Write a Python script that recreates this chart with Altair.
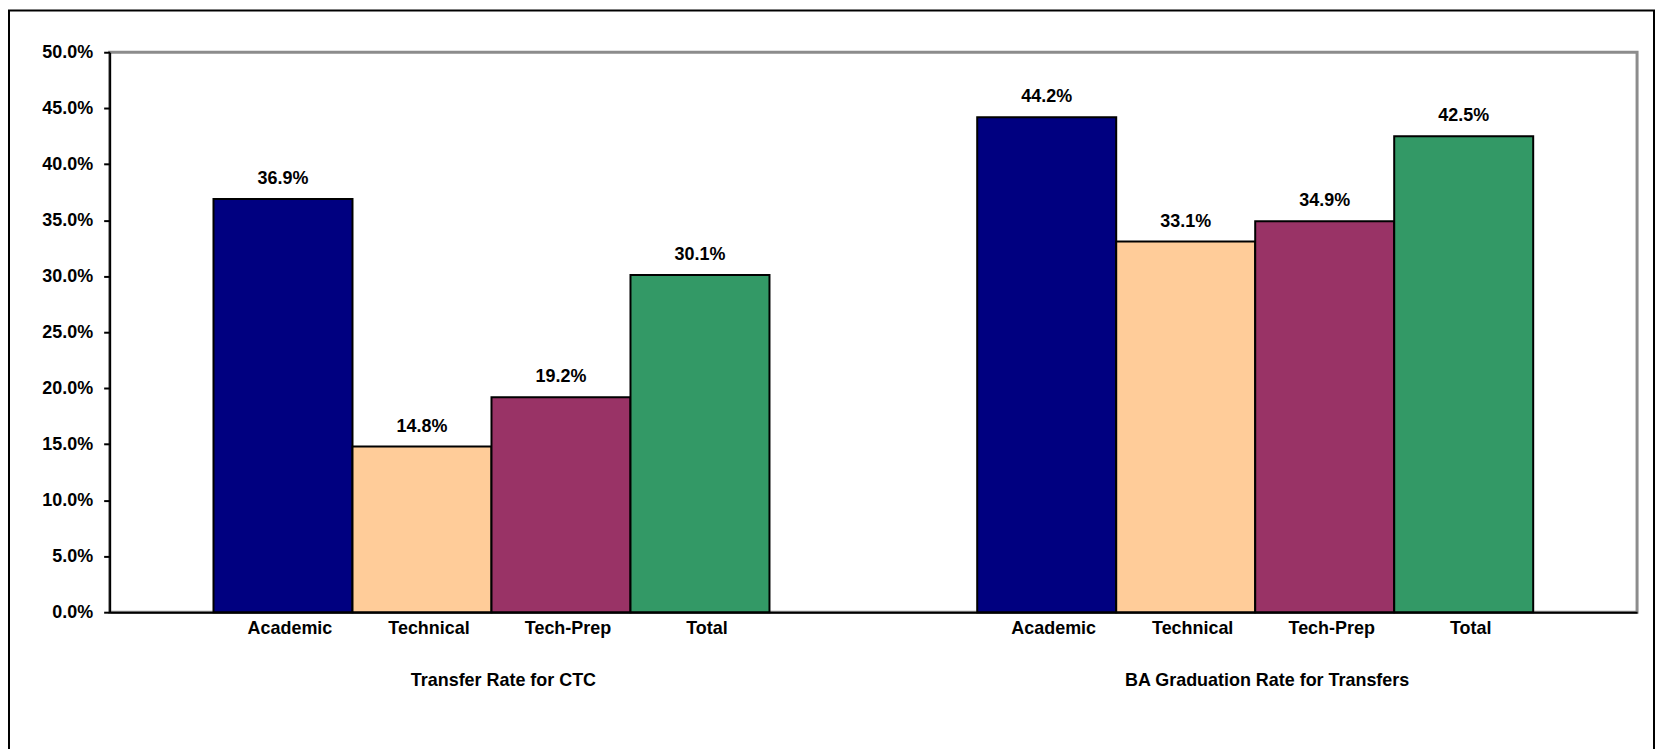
import altair as alt
import pandas as pd

groups = ["Transfer Rate for CTC", "BA Graduation Rate for Transfers"]
categories = ["Academic", "Technical", "Tech-Prep", "Total"]
transfer_vals = [0.369, 0.148, 0.192, 0.301]
ba_vals = [0.442, 0.331, 0.349, 0.425]
colors = ["#000080", "#FFCC99", "#993366", "#339966"]

rows = []
for c, v in zip(categories, transfer_vals):
    rows.append({"group": groups[0], "category": c, "value": v})
for c, v in zip(categories, ba_vals):
    rows.append({"group": groups[1], "category": c, "value": v})
df = pd.DataFrame(rows)

W, H = 1533, 562
FONT = "Liberation Sans"

x_enc = alt.X(
    "group:N",
    sort=groups,
    scale=alt.Scale(paddingInner=0.272, paddingOuter=0.136),
    axis=alt.Axis(
        title=None,
        labelAngle=0,
        ticks=False,
        labelPadding=60,
        labelOffset=12,
        labelLimit=800,
        labelFont=FONT,
        labelFontSize=18,
        labelFontWeight="bold",
        labelColor="black",
        domainColor="black",
        domainWidth=2,
    ),
)
xoff = alt.XOffset("category:N", sort=categories, scale=alt.Scale(paddingInner=0, paddingOuter=0))

base = alt.Chart(df)

bars = base.mark_bar(stroke="black", strokeWidth=2).encode(
    x=x_enc,
    xOffset=xoff,
    y=alt.Y(
        "value:Q",
        scale=alt.Scale(domain=[0, 0.5]),
        axis=alt.Axis(
            title=None,
            format=".1%",
            values=[i * 0.05 for i in range(11)],
            grid=False,
            tickColor="black",
            tickWidth=2,
            tickSize=6,
            labelPadding=11,
            labelFont=FONT,
            labelFontSize=18,
            labelFontWeight="bold",
            labelColor="black",
            domainColor="black",
            domainWidth=2,
        ),
    ),
    color=alt.Color("category:N", sort=categories,
                    scale=alt.Scale(domain=categories, range=colors), legend=None),
)

value_labels = base.mark_text(
    font=FONT, fontSize=18, fontWeight="bold", color="black",
    baseline="bottom", dy=-11,
).encode(
    x=alt.X("group:N", sort=groups),
    xOffset=xoff,
    y="value:Q",
    text=alt.Text("value:Q", format=".1%"),
)

cat_labels = base.mark_text(
    font=FONT, fontSize=18, fontWeight="bold", color="black",
    baseline="middle", dx=7,
).encode(
    x=alt.X("group:N", sort=groups),
    xOffset=xoff,
    y=alt.value(H + 17),
    text="category:N",
)

frame = alt.Chart(pd.DataFrame({"a": [0]})).mark_rect(
    fill=None, stroke="black", strokeWidth=2
).encode(
    x=alt.value(-101),
    x2=alt.value(W + 17),
    y=alt.value(-42),
    y2=alt.value(H + 160),
)

chart = alt.layer(bars, value_labels, cat_labels, frame).properties(
    width=W, height=H, padding=0, background="white"
).configure_view(
    stroke="#8c8c8c", strokeWidth=3
)

chart.save("out.html", embed_options={"renderer": "svg", "actions": False})
